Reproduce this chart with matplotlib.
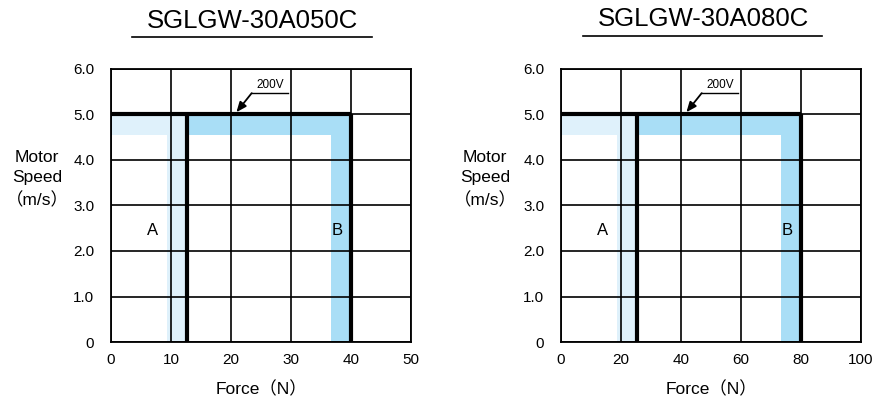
import matplotlib
matplotlib.use("Agg")
import matplotlib.pyplot as plt
from matplotlib.lines import Line2D

# ---- data ----
titles = ["SGLGW-30A050C", "SGLGW-30A080C"]
x_max = [50, 100]
x_ticks = [[0, 10, 20, 30, 40, 50], [0, 20, 40, 60, 80, 100]]
y_ticks = [0, 1.0, 2.0, 3.0, 4.0, 5.0, 6.0]
y_ticklabels = ["0", "1.0", "2.0", "3.0", "4.0", "5.0", "6.0"]
speed_max = 5.0          # m/s, 200V line
speed_band = 4.56        # lower edge of shaded band
force_A = [12.7, 25.4]   # continuous force boundary (N)
force_A_in = [9.3, 18.6] # inner edge of region A band
force_B = [40.0, 80.0]   # peak force boundary (N)
force_B_in = [36.7, 73.3]
label_pos_A = [(7.0, 2.44), (14.0, 2.44)]
label_pos_B = [(37.7, 2.44), (75.3, 2.44)]
voltage_label = "200V"
arrow_tip = [(20.9, 5.05), (41.8, 5.05)]
arrow_tail = [(23.45, 5.47), (46.9, 5.47)]
leader_end = [29.5, 59.0]

FONT = ["Liberation Sans", "Noto Sans CJK JP", "DejaVu Sans"]
plt.rcParams["font.family"] = FONT

light = "#dff1fb"
dark = "#a9def6"

fig = plt.figure(figsize=(8.74, 3.98), dpi=100)
W, H = 874, 398
axes_px = [(111, 411), (561, 861)]
ybot, ytop = 342, 69
title_centers = [(252, 21), (703, 19)]
underlines = [(132, 372, 37), (583, 822, 36)]
ylabel_x = [37, 485]

for i in range(2):
    x0, x1 = axes_px[i]
    ax = fig.add_axes([x0 / W, 1 - ybot / H, (x1 - x0) / W, (ybot - ytop) / H])
    ax.set_xlim(0, x_max[i])
    ax.set_ylim(0, 6.0)
    A, Ai, B, Bi = force_A[i], force_A_in[i], force_B[i], force_B_in[i]
    # region A band (light)
    ax.fill([0, A, A, Ai, Ai, 0], [speed_max, speed_max, 0, 0, speed_band, speed_band],
            color=light, lw=0, zorder=1)
    # region B band (darker)
    ax.fill([A, B, B, Bi, Bi, A], [speed_max, speed_max, 0, 0, speed_band, speed_band],
            color=dark, lw=0, zorder=1)
    ax.set_xticks(x_ticks[i])
    ax.set_yticks(y_ticks)
    ax.set_yticklabels(y_ticklabels)
    ax.grid(True, color="black", lw=1.2, zorder=2)
    ax.set_axisbelow(False)
    for s in ax.spines.values():
        s.set_linewidth(1.3)
        s.set_zorder(4)
    ax.tick_params(length=0, labelsize=11, colors="black")
    ax.tick_params(axis="x", pad=8)
    ax.tick_params(axis="y", pad=12)
    # thick boundary lines
    ax.plot([0, B], [speed_max, speed_max], color="black", lw=3, zorder=5, solid_capstyle="butt")
    ax.plot([A, A], [0, speed_max], color="black", lw=3, zorder=5, solid_capstyle="butt")
    ax.plot([B, B], [0, speed_max], color="black", lw=3, zorder=5, solid_capstyle="butt")
    # labels
    ax.text(*label_pos_A[i], "A", fontsize=12, ha="center", va="center", zorder=6)
    ax.text(*label_pos_B[i], "B", fontsize=12, ha="center", va="center", zorder=6)
    # 200V annotation
    tx, ty = arrow_tail[i]
    ax.plot([tx, leader_end[i]], [ty, ty], color="black", lw=1.0, zorder=6)
    ax.annotate("", xy=arrow_tip[i], xytext=(tx, ty),
                arrowprops=dict(arrowstyle="-|>,head_length=0.6,head_width=0.25",
                                color="black", lw=1.3, shrinkA=0, shrinkB=0), zorder=6)
    ax.text((tx + leader_end[i]) / 2, ty + 0.04, voltage_label, fontsize=8.5,
            ha="center", va="bottom", zorder=6)
    ax.set_xlabel("Force（N）", fontsize=12.5, labelpad=10)
    # title
    cx, cy = title_centers[i]
    fig.text(cx / W, 1 - cy / H, titles[i], fontsize=18.5, ha="center", va="center")
    u0, u1, uy = underlines[i]
    fig.add_artist(Line2D([u0 / W, u1 / W], [1 - uy / H, 1 - uy / H], color="black", lw=1.2,
                          transform=fig.transFigure))
    # y label
    fig.text(ylabel_x[i] / W, 1 - 179 / H, "Motor\nSpeed\n（m/s）", fontsize=12.5,
             ha="center", va="center", linespacing=1.45)

fig.savefig("out.png", dpi=100)
